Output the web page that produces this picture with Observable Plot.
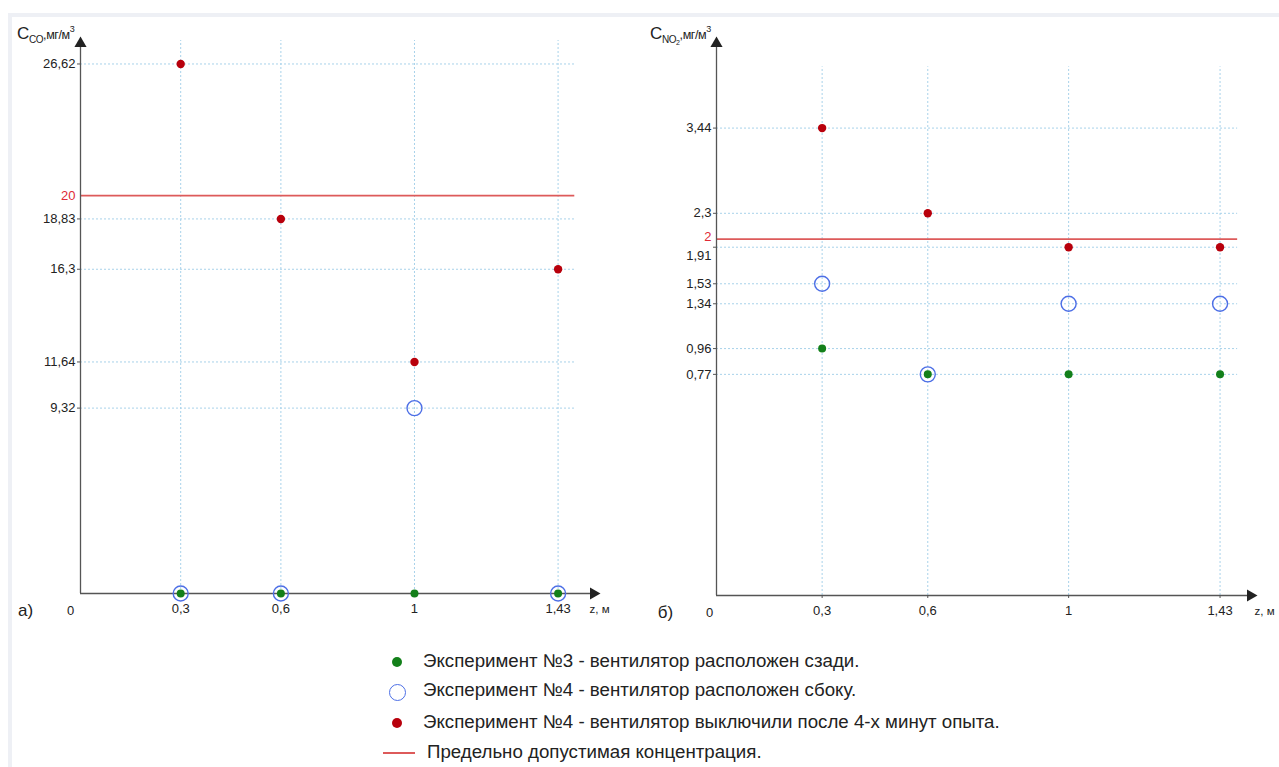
<!DOCTYPE html>
<html><head><meta charset="utf-8">
<script src="https://cdn.jsdelivr.net/npm/d3@7"></script>
<script src="https://cdn.jsdelivr.net/npm/@observablehq/plot@0.6"></script>
<style>
body{margin:0;background:#fff;font-family:"Liberation Sans",Arial,sans-serif;}
#wrap{position:relative;width:1279px;height:767px;overflow:hidden;background:#fff}
#frame{position:absolute;left:8px;top:13px;right:0;bottom:0;border-top:4px solid #eef0f5;border-left:4px solid #eef0f5}
.panel{position:absolute;top:0}
.ytitle{position:absolute;font-size:17px;color:#222;white-space:nowrap;letter-spacing:-0.4px}
.ytitle sub{font-size:10px;vertical-align:-4px}
.ytitle sup{font-size:9px;vertical-align:7px}
.ytitle .u{font-size:12.5px}
#legend{position:absolute;left:370px;top:640px;width:800px;height:127px}
.li{position:absolute;left:53px;font-size:18.7px;color:#222;white-space:nowrap;line-height:20px}
.mk{position:absolute;border-radius:50%}
</style>
</head><body>
<div id="wrap">
  <div id="frame"></div>
  <div id="left" class="panel" style="left:0"></div>
  <div id="right" class="panel" style="left:640px"></div>
  <div class="ytitle" style="left:17px;top:24px">C<sub>CO</sub><span class="u">,мг/м<sup>3</sup></span></div>
  <div class="ytitle" style="left:650px;top:24px">C<sub>NO<sub style="font-size:7px;vertical-align:-2px">2</sub></sub><span class="u">,мг/м<sup>3</sup></span></div>
  <div id="legend"></div>
</div>
<script>
// ---- data ----
const distances = [0.3, 0.6, 1, 1.43];
const distanceLabels = ["0,3", "0,6", "1", "1,43"];

const coExp3 = [0, 0, 0, 0];
const coExp4Side = [0, 0, 9.32, 0];
const coExp4Off = [26.62, 18.83, 11.64, 16.3];
const coLimit = 20;
const coTicks = [26.62, 18.83, 16.3, 11.64, 9.32];

const no2Exp3 = [0.96, 0.77, 0.77, 0.77];
const no2Exp4Side = [1.53, 0.77, 1.34, 1.34];
const no2Exp4Off = [3.44, 2.3, 1.91, 1.91];
const no2Limit = 2;
const no2Ticks = [3.44, 2.3, 1.91, 1.53, 1.34, 0.96, 0.77];

const legendLabels = [
  "Эксперимент №3 - вентилятор расположен сзади.",
  "Эксперимент №4 - вентилятор расположен сбоку.",
  "Эксперимент №4 - вентилятор выключили после 4-х минут опыта.",
  "Предельно допустимая концентрация."
];

// ---- styles ----
const RED = "#b8000c", GREEN = "#13801a", BLUE = "#4d6fe6", LIMIT = "#dd5a5a", GRID = "#a8d2ea", AXIS = "#555";
const fmt = d => String(d).replace(".", ",");
const FS = 13;

function panel(o) {
  const pts = (vals) => distances.map((x, i) => ({x, y: vals[i]}));
  const xMax = o.xMax, yMax = o.yDomain[1];
  return Plot.plot({
    width: o.width, height: 640,
    marginLeft: o.marginLeft, marginRight: o.marginRight, marginTop: 40, marginBottom: o.marginBottom,
    style: {fontFamily: '"Liberation Sans", Arial, sans-serif', fontSize: "13px", color: "#222", background: "transparent", overflow: "visible"},
    x: {type: "linear", domain: [0, xMax]},
    y: {type: o.yType, domain: o.yDomain},
    marks: [
      Plot.ruleX(distances, {x: d => d, y1: 0, y2: o.gridTop, stroke: GRID, strokeDasharray: "2,2"}),
      Plot.ruleY(o.ticks, {y: d => d, x1: 0, x2: 1.48, stroke: GRID, strokeDasharray: "2,2"}),
      Plot.ruleY([o.limit], {x1: 0, x2: 1.48, stroke: LIMIT, strokeWidth: 1.6}),
      Plot.ruleY([0], {stroke: AXIS, strokeWidth: 1.3}),
      Plot.ruleX([0], {stroke: AXIS, strokeWidth: 1.3}),
      Plot.dot([{x: xMax, y: 0}], {x: "x", y: "y", symbol: "triangle", rotate: 90, r: 4.5, fill: "#222", dx: -3}),
      Plot.dot([{x: 0, y: yMax}], {x: "x", y: "y", symbol: "triangle", r: 4.5, fill: "#222", dy: 3}),
      Plot.axisX(distances, {tickFormat: (d, i) => distanceLabels[i], tickSize: 3, tickPadding: 7, stroke: AXIS, fontSize: FS, label: null}),
      Plot.axisY(o.ticks, {tickFormat: fmt, tickSize: 3, tickPadding: 2, stroke: AXIS, fontSize: FS, label: null}),
      Plot.axisY([o.limit], {tickFormat: fmt, tickSize: 0, tickPadding: 5, fill: "#e02a36", fontSize: FS, dy: o.limitDy || 0, label: null}),
      Plot.text([{x: 0, y: 0}], {x: "x", y: "y", text: () => "0", dx: o.zeroDx, dy: 17, fontSize: FS}),
      Plot.text([{x: 0, y: 0}], {x: "x", y: "y", text: () => o.panelLabel, dx: o.labelDx, dy: 17, fontSize: 17}),
      Plot.text([{x: xMax, y: 0}], {x: "x", y: "y", text: () => "z, м", dx: o.zDx, dy: 16, textAnchor: "start", fontSize: 11.5}),
      Plot.dot(pts(o.side), {x: "x", y: "y", r: 7.5, stroke: BLUE, strokeWidth: 1.4, fill: "none"}),
      Plot.dot(pts(o.exp3), {x: "x", y: "y", r: 4, fill: GREEN}),
      Plot.dot(pts(o.off), {x: "x", y: "y", r: 4.2, fill: RED})
    ]
  });
}

document.getElementById("left").append(panel({
  width: 640, marginLeft: 80, marginRight: 44, marginBottom: 47,
  xMax: 1.545, yType: "linear", yDomain: [0, 27.8], gridTop: 27.8,
  ticks: coTicks, limit: coLimit, exp3: coExp3, side: coExp4Side, off: coExp4Off,
  zeroDx: -10, labelDx: -55, zDx: -7, panelLabel: "а)"
}));

const rightSvg = panel({
  width: 639, marginLeft: 76, marginRight: 26, marginBottom: 45,
  xMax: 1.525, yType: "sqrt", yDomain: [0, 4.85], gridTop: 4.4,
  ticks: no2Ticks, limit: no2Limit, exp3: no2Exp3, side: no2Exp4Side, off: no2Exp4Off,
  zeroDx: -7, labelDx: -51, zDx: 1, panelLabel: "б)", limitDy: -2
});
// shift the crowded "1,91" tick label a little downward so it does not collide with the red "2"
rightSvg.querySelectorAll("text").forEach(t => {
  if (t.textContent === "1,91") t.setAttribute("transform", ((t.getAttribute("transform") || "") + " translate(0,9)").trim());
});
document.getElementById("right").append(rightSvg);

// ---- legend ----
const lg = document.getElementById("legend");
const rows = [21, 50, 82, 112];
legendLabels.forEach((t, i) => {
  const d = document.createElement("div");
  d.className = "li";
  d.style.top = (rows[i] - 10) + "px";
  if (i === 3) d.style.left = "57px";
  d.textContent = t;
  lg.append(d);
});
function mk(cx, cy, r, style) {
  const m = document.createElement("div");
  m.className = "mk";
  Object.assign(m.style, {left: (cx - r) + "px", top: (cy - r) + "px", width: 2*r + "px", height: 2*r + "px"}, style);
  lg.append(m);
}
mk(27, 22, 5, {background: GREEN});
mk(27, 52, 8.5, {border: "1.4px solid " + BLUE, boxSizing: "border-box"});
mk(27, 83, 5, {background: RED});
const ln = document.createElement("div");
Object.assign(ln.style, {position: "absolute", left: "13px", top: "112px", width: "32px", height: "1.5px", background: LIMIT});
lg.append(ln);
</script>
</body></html>
